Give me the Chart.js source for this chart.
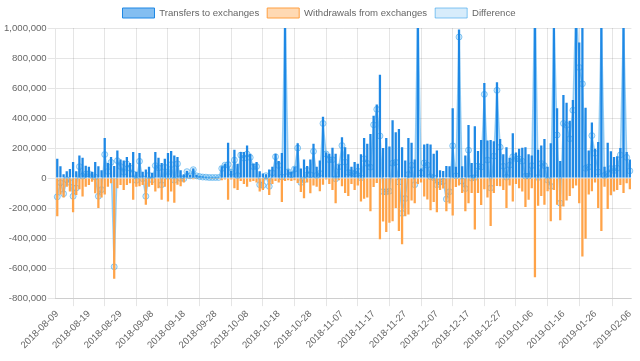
<!DOCTYPE html>
<html>
<head>
<meta charset="utf-8">
<script src="https://cdn.jsdelivr.net/npm/chart.js@4.4.1/dist/chart.umd.min.js"></script>
<style>
html,body{margin:0;padding:0;background:#fff;}
#wrap{width:640px;height:361px;position:relative;}
</style>
</head>
<body>
<div id="wrap"><canvas id="c" width="640" height="361"></canvas></div>
<script>
// Values in thousands
const UNIT = 1000;
const START_DATE = '2018-08-09';
const DAY_COUNT = 182;
const transfersK = [
129,79,26,46,61,107,46,151,136,83,
75,42,107,79,53,267,101,140,80,184,
123,118,140,101,173,42,167,42,57,75,
35,173,136,101,129,167,180,151,140,53,
26,48,20,64,20,13,10,8,6,5,
5,5,79,96,235,48,188,96,173,173,
217,162,96,107,46,31,26,57,75,162,
114,167,1150,57,42,75,232,64,123,81,
123,228,75,118,408,170,162,202,162,90,
272,206,158,75,107,96,158,267,228,294,
415,491,689,200,267,211,386,305,327,206,
118,267,235,123,1200,64,224,228,224,162,
184,53,48,81,79,465,75,990,79,151,
353,100,346,180,254,633,250,254,246,638,
261,158,206,136,298,170,195,202,206,158,
151,1900,189,217,261,75,232,1150,465,114,
553,502,382,520,1250,904,1150,469,184,371,
195,240,1400,75,235,178,140,145,200,1150,
173,123];
const withdrawalsK = [
-254,-110,-130,-57,-90,-228,-112,-75,-123,-57,
-46,-24,-101,-200,-130,-110,-57,-35,-671,-68,
-46,-79,-46,-35,-145,-57,-55,-46,-178,-57,
-46,-90,-68,-145,-57,-156,-90,-165,-45,-55,
-30,-5,-5,-8,-5,-3,-3,-2,-2,-1,
-1,-1,-15,-10,-145,-10,-68,-79,-20,-40,
-57,-25,-20,-30,-90,-80,-10,-112,-40,-20,
-30,-160,-20,-15,-20,-15,-32,-93,-134,-30,
-101,-50,-57,-87,-44,-10,-40,-80,-167,-15,
-55,-100,-120,-40,-79,-50,-156,-138,-130,-221,
-60,-33,-408,-290,-360,-298,-287,-200,-353,-441,
-254,-243,-150,-167,-40,-30,-123,-142,-215,-160,
-228,-80,-70,-221,-170,-250,-60,-50,-100,-221,
-167,-100,-342,-100,-180,-75,-130,-320,-100,-53,
-55,-79,-200,-50,-156,-40,-68,-90,-193,-145,
-68,-660,-185,-120,-178,-88,-287,-79,-178,-281,
-189,-150,-120,-68,-50,-167,-522,-404,-110,-88,
-30,-200,-353,-57,-206,-114,-90,-79,-46,-100,
-35,-75];
const yTicks = [-800000,-600000,-400000,-200000,0,200000,400000,600000,800000,1000000];

// categories: consecutive days
const categories = [];
{
  const d0 = new Date(START_DATE + 'T00:00:00Z');
  for (let i = 0; i < DAY_COUNT; i++) {
    const d = new Date(d0.getTime() + i * 86400000);
    categories.push(d.toISOString().slice(0, 10));
  }
}
const transfers = transfersK.map(v => v * UNIT);
const withdrawals = withdrawalsK.map(v => v * UNIT);
const difference = transfers.map((v, i) => v + withdrawals[i]);

const FONT = { family: "'Liberation Sans', Arial, sans-serif", size: 9.6 };
Chart.defaults.font.family = FONT.family;
Chart.defaults.font.size = FONT.size;
Chart.defaults.color = '#666';

const legendFill = ['rgba(30,136,229,0.55)', 'rgba(255,159,64,0.4)', 'rgba(54,162,235,0.2)'];
const legendStroke = ['rgb(30,136,229)', 'rgb(255,159,64)', 'rgba(54,162,235,0.6)'];

function showLabel(i, n) {
  return (i % 10 === 0 && i + 10 < n) || i === n - 1;
}

new Chart(document.getElementById('c'), {
  type: 'bar',
  data: {
    labels: categories,
    datasets: [
      {
        label: 'Transfers to exchanges',
        data: transfers,
        backgroundColor: 'rgb(30,136,229)',
        borderWidth: 0
      },
      {
        label: 'Withdrawals from exchanges',
        data: withdrawals,
        backgroundColor: 'rgb(255,163,72)',
        borderWidth: 0
      },
      {
        type: 'line',
        label: 'Difference',
        data: difference,
        backgroundColor: 'rgba(54,162,235,0.2)',
        borderColor: 'rgba(54,162,235,0.5)',
        borderWidth: 1.5,
        fill: 'origin',
        tension: 0,
        pointRadius: 3,
        pointBorderWidth: 1,
        pointBackgroundColor: 'rgba(54,162,235,0.2)',
        pointBorderColor: 'rgba(54,162,235,0.55)'
      }
    ]
  },
  options: {
    responsive: false,
    animation: false,
    devicePixelRatio: 1,
    layout: { padding: { left: 3, right: 5, top: 0, bottom: 8 } },
    plugins: {
      legend: {
        position: 'top',
        labels: {
          boxWidth: 32,
          boxHeight: 10,
          padding: 8,
          color: '#666',
          font: FONT,
          generateLabels: function (chart) {
            const items = Chart.defaults.plugins.legend.labels.generateLabels(chart);
            items.forEach((it) => {
              it.fillStyle = legendFill[it.datasetIndex];
              it.strokeStyle = legendStroke[it.datasetIndex];
              it.lineWidth = 1;
              it.lineDash = [];
            });
            return items;
          }
        }
      },
      tooltip: { enabled: false }
    },
    scales: {
      x: {
        stacked: true,
        offset: true,
        grid: { offset: true, color: 'rgba(0,0,0,0.1)', tickLength: 8 },
        ticks: {
          autoSkip: false,
          minRotation: 45,
          maxRotation: 45,
          padding: 2,
          color: '#666',
          font: FONT,
          callback: function (value, index) {
            return showLabel(index, categories.length) ? categories[index] : null;
          }
        }
      },
      y: {
        min: -800000,
        max: 1000000,
        afterBuildTicks: function (axis) {
          axis.ticks = yTicks.map(v => ({ value: v }));
        },
        grid: { color: 'rgba(0,0,0,0.1)', tickLength: 8 },
        ticks: {
          padding: 1,
          color: '#666',
          font: FONT,
          callback: function (value) {
            return Number(value).toLocaleString('en-US');
          }
        }
      }
    }
  }
});
</script>
</body>
</html>
